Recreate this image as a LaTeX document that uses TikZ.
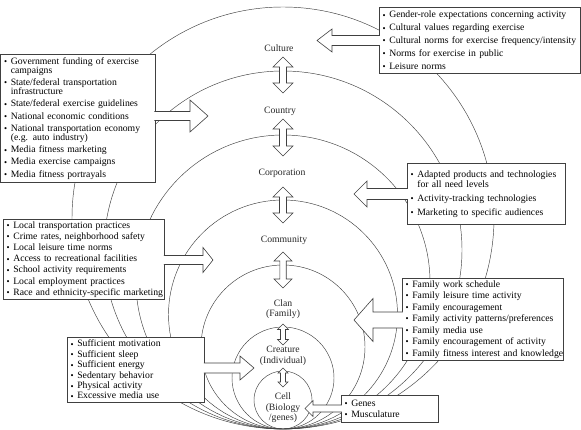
\documentclass[tikz,border=0pt]{standalone}
\usepackage{fontspec}
\setmainfont{Liberation Serif}
\usetikzlibrary{calc}

\tikzset{
  ring/.style={draw=black!75, line width=0.45pt},
  listbox/.style={draw=black!75, line width=0.6pt, fill=white, anchor=north west,
    align=left, inner xsep=3pt, inner ysep=2pt,
    font=\fontsize{9.7}{#1}\selectfont},
  listbox/.default=11.5,
  ringlabel/.style={align=center, text=black!85, font=\fontsize{9.7}{10.5}\selectfont},
  blockarrow/.style={draw=black!75, line width=0.6pt, fill=white, line join=miter}
}

% Aufzaehlungspunkt
\newcommand\bl{\makebox[7pt][l]{\hspace{0.2pt}\raisebox{-0.1ex}{\scalebox{0.9}{\textbullet}}}}
\newcommand\itm[1]{\mbox{\bl#1}}
\newcommand\cont[1]{\mbox{\hspace*{7pt}#1}}

% Blockpfeil: Start am Kasten, Spitze, Schaft, Kopf, Kopflaenge
\newcommand\blockarrow[5]{%
  \coordinate (ba-s0) at (#1);
  \coordinate (ba-s) at ($(ba-s0)!-0.8pt!(#2)$);
  \coordinate (ba-h) at ($(#2)!#5pt!(ba-s)$);
  \filldraw[blockarrow] ($(ba-s)!#3pt!90:(#2)$) -- ($(ba-h)!#3pt!90:(#2)$)
    -- ($(ba-h)!#4pt!90:(#2)$) -- (#2) -- ($(ba-h)!#4pt!-90:(#2)$)
    -- ($(ba-h)!#3pt!-90:(#2)$) -- ($(ba-s)!#3pt!-90:(#2)$);
}

% Doppelpfeil zwischen zwei Punkten
\newcommand\dblarrow[5]{%
  \coordinate (da-1) at ($(#1)!#5pt!(#2)$);
  \coordinate (da-2) at ($(#2)!#5pt!(#1)$);
  \filldraw[blockarrow] (#1) -- ($(da-1)!#4pt!90:(#2)$) -- ($(da-1)!#3pt!90:(#2)$)
    -- ($(da-2)!#3pt!-90:(#1)$) -- ($(da-2)!#4pt!-90:(#1)$) -- (#2)
    -- ($(da-2)!#4pt!90:(#1)$) -- ($(da-2)!#3pt!90:(#1)$)
    -- ($(da-1)!#3pt!-90:(#2)$) -- ($(da-1)!#4pt!-90:(#2)$) -- cycle;
}

\begin{document}
\begin{tikzpicture}[x=1pt, y=-1pt]

  \useasboundingbox (0,0) rectangle (581,430);

  % Ringe, alle unten beruehrend
  \foreach \r in {211,179,147,114.5,82,51,29}
    \draw[ring] (283,{429-\r}) circle[radius=\r pt];

  % Ebenen
  \node[ringlabel] (culture) at (279,48) {Culture};
  \node[ringlabel] (country) at (280,111) {Country};
  \node[ringlabel] (corporation) at (282,173) {Corporation};
  \node[ringlabel] (community) at (284,240) {Community};
  \node[ringlabel] (clan) at (283,309) {Clan\\(Family)};
  \node[ringlabel] (creature) at (283,356) {Creature\\(Individual)};
  \node[ringlabel] (cell) at (283,408) {Cell\\(Biology\\/genes)};

  % Doppelpfeile zwischen den Ebenen
  \foreach \n/\ya/\yb/\sw/\hw/\hl in {1/57/93/3.5/10/10, 2/119/156/3.5/10/10,
      3/187/223/3.5/10/10, 4/252/288/3.2/9/9, 5/324/345/2.5/5.5/5.5, 6/368/387/2.5/5/5} {
    \coordinate (d\n o) at (283,\ya);
    \coordinate (d\n u) at (283,\yb);
    \dblarrow{d\n o}{d\n u}{\sw}{\hw}{\hl}
  }

  % Kaesten
  \node[listbox=12.8, text width=195pt, minimum height=66pt] (cultbox) at (379,7) {%
    \itm{Gender-role expectations concerning activity}\\
    \itm{Cultural values regarding exercise}\\
    \itm{Cultural norms for exercise frequency/intensity}\\
    \itm{Norms for exercise in public}\\
    \itm{Leisure norms}};

  \node[listbox=9, text width=148pt, minimum height=128pt] (govbox) at (0.5,54) {%
    \itm{Government funding of exercise}\\\cont{campaigns}\\[3.3pt]
    \itm{State/federal transportation}\\\cont{infrastructure}\\[3.3pt]
    \itm{State/federal exercise guidelines}\\[3.3pt]
    \itm{National economic conditions}\\[3.3pt]
    \itm{National transportation economy}\\\cont{(e.g. auto industry)}\\[3.3pt]
    \itm{Media fitness marketing}\\[3.3pt]
    \itm{Media exercise campaigns}\\[3.3pt]
    \itm{Media fitness portrayals}};

  \node[listbox=10, text width=152pt, minimum height=61pt] (adaptbox) at (407,163) {%
    \itm{Adapted products and technologies}\\\cont{for all need levels}\\[4pt]
    \itm{Activity-tracking technologies}\\[4pt]
    \itm{Marketing to specific audiences}};

  \node[listbox=11.2, text width=155pt, minimum height=80pt] (localbox) at (3,219) {%
    \itm{Local transportation practices}\\
    \itm{Crime rates, neighborhood safety}\\
    \itm{Local leisure time norms}\\
    \itm{Access to recreational facilities}\\
    \itm{School activity requirements}\\
    \itm{Local employment practices}\\
    \itm{Race and ethnicity-specific marketing}};

  \node[listbox=11.5, text width=155pt, minimum height=81pt] (familybox) at (402,278) {%
    \itm{Family work schedule}\\
    \itm{Family leisure time activity}\\
    \itm{Family encouragement}\\
    \itm{Family activity patterns/preferences}\\
    \itm{Family media use}\\
    \itm{Family encouragement of activity}\\
    \itm{Family fitness interest and knowledge}};

  \node[listbox=10.4, text width=131pt, minimum height=65pt] (suffbox) at (67,337) {%
    \itm{Sufficient motivation}\\
    \itm{Sufficient sleep}\\
    \itm{Sufficient energy}\\
    \itm{Sedentary behavior}\\
    \itm{Physical activity}\\
    \itm{Excessive media use}};

  \node[listbox=11, text width=91pt, minimum height=27pt] (genesbox) at (341,395) {%
    \itm{Genes}\\
    \itm{Musculature}};

  % Blockpfeile von den Kaesten zu den Ringen
  \coordinate (cultTip) at (317,40.5);
  \coordinate (govTip) at (208,116);
  \coordinate (adaptTip) at (354,194);
  \coordinate (localTip) at (213,260);
  \coordinate (familyTip) at (354,320);
  \coordinate (suffTip) at (254,368);
  \coordinate (genesTip) at (305,408.5);

  \blockarrow{cultbox.west |- cultTip}{cultTip}{5}{11.5}{15}
  \blockarrow{govbox.east |- govTip}{govTip}{4.5}{16}{18}
  \blockarrow{adaptbox.west |- adaptTip}{adaptTip}{5.5}{13}{13}
  \blockarrow{localbox.east |- localTip}{localTip}{4.5}{12.5}{10}
  \blockarrow{familybox.west |- familyTip}{familyTip}{8}{21.5}{19}
  \blockarrow{suffbox.east |- suffTip}{suffTip}{5}{12}{14}
  \blockarrow{genesbox.west |- genesTip}{genesTip}{3.5}{8}{8}

\end{tikzpicture}
\end{document}
